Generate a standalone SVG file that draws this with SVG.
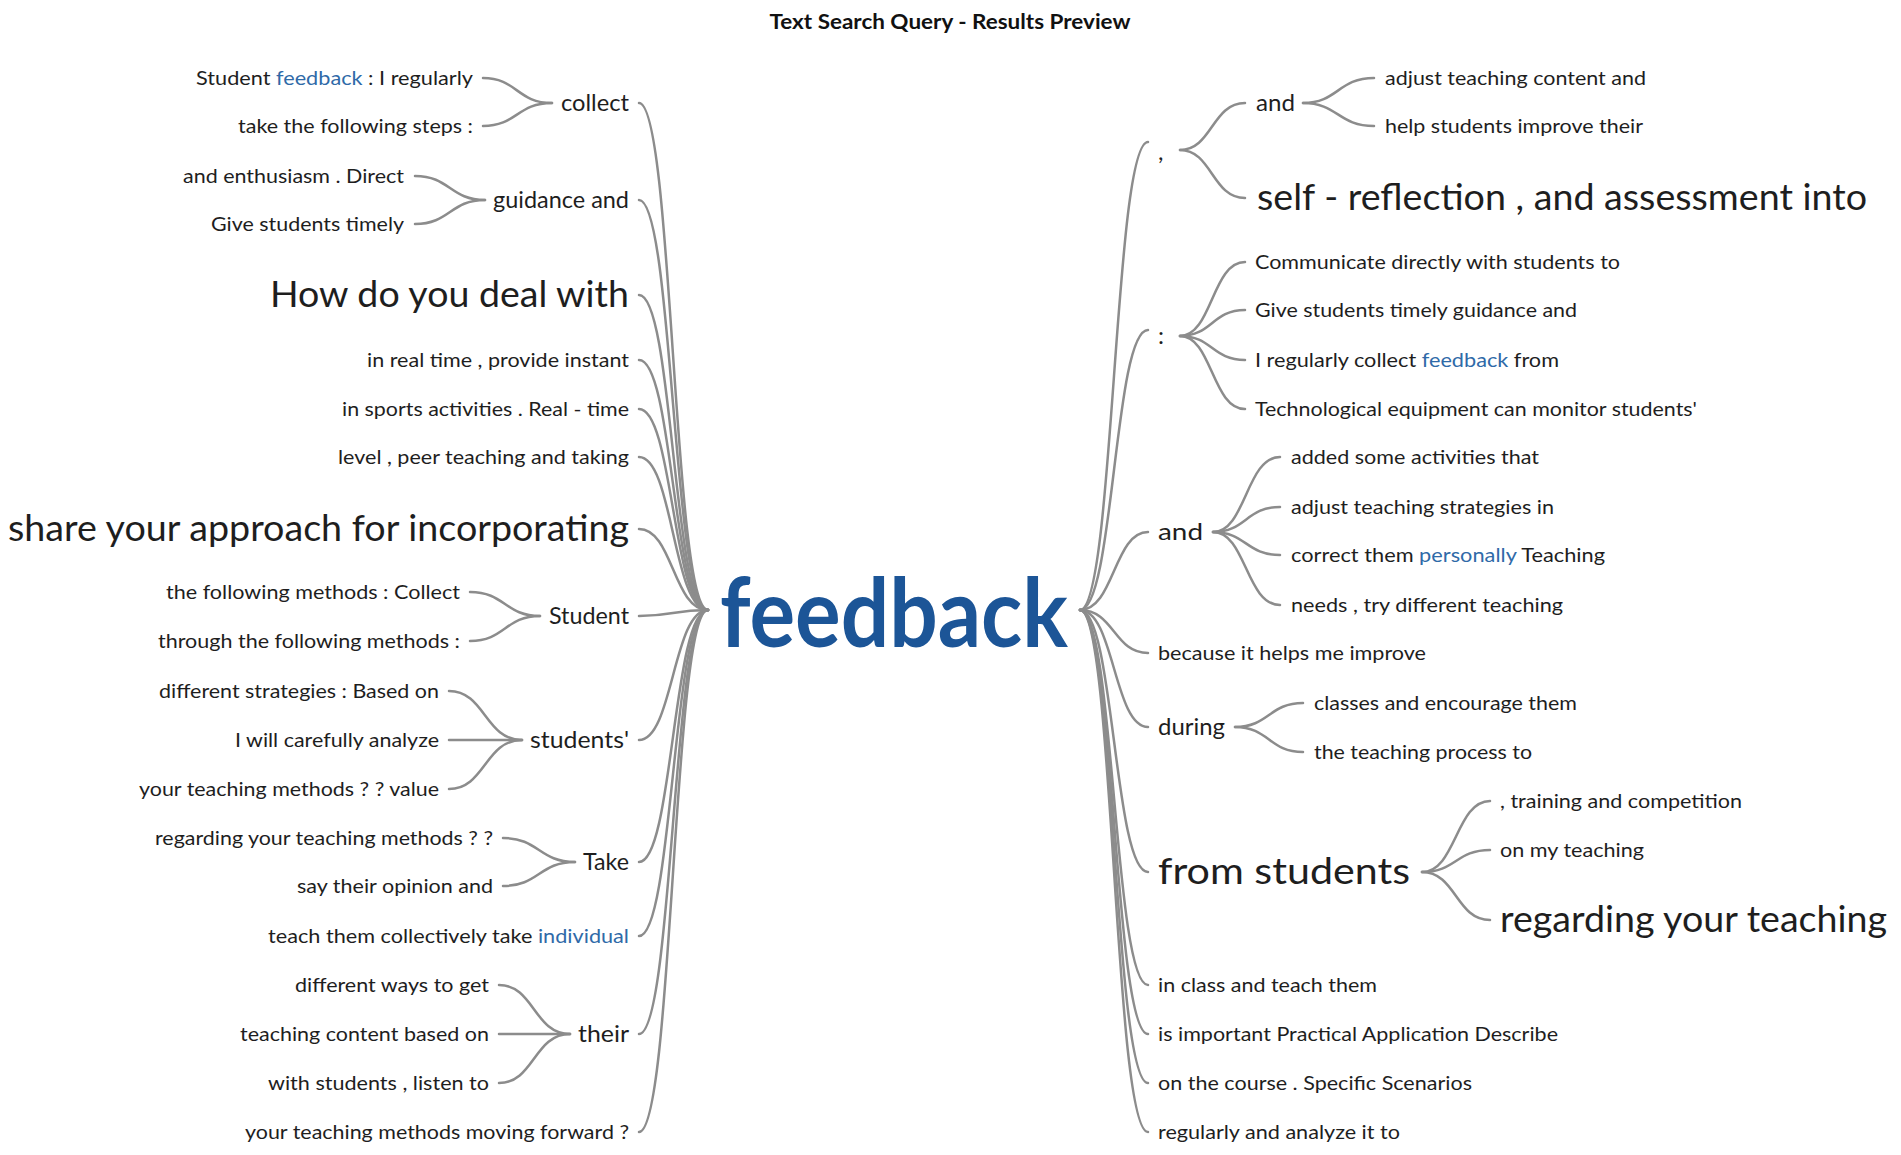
<svg xmlns="http://www.w3.org/2000/svg" width="1901" height="1155" viewBox="0 0 1901 1155">
<style>
text{font-family:Lato,"Open Sans","Liberation Sans",sans-serif;fill:#1e1e1e}
.s{font-size:20px}
.m{font-size:24px}
.b{font-size:36px}
.l{text-anchor:end}
.hl{fill:#2f6aa8}
.title{font-size:20px;font-weight:bold;text-anchor:middle;fill:#111}
.root{font-size:96px;font-weight:bold;fill:#1c5597}
.lk{fill:none;stroke:#8c8c8c;stroke-width:2.5;stroke-linecap:round}
</style>
<rect width="1901" height="1155" fill="#fff"/>
<text class="title" x="950" y="29" textLength="361" lengthAdjust="spacingAndGlyphs">Text Search Query - Results Preview</text>

<g id="connectors">
<!-- left level 1 -->
<path class="lk" d="M639,103 C673,103 673,610 708,610"/>
<path class="lk" d="M639,200 C673,200 673,610 708,610"/>
<path class="lk" d="M639,295 C673,295 673,610 708,610"/>
<path class="lk" d="M639,360 C673,360 673,610 708,610"/>
<path class="lk" d="M639,409 C673,409 673,610 708,610"/>
<path class="lk" d="M639,457 C673,457 673,610 708,610"/>
<path class="lk" d="M639,529 C673,529 673,610 708,610"/>
<path class="lk" d="M639,616 C673,616 673,610 708,610"/>
<path class="lk" d="M639,740 C673,740 673,610 708,610"/>
<path class="lk" d="M639,862 C673,862 673,610 708,610"/>
<path class="lk" d="M639,936 C673,936 673,610 708,610"/>
<path class="lk" d="M639,1034 C673,1034 673,610 708,610"/>
<path class="lk" d="M639,1132 C673,1132 673,610 708,610"/>
<!-- left level 2 -->
<path class="lk" d="M552,103 C517,103 517,78 483,78"/>
<path class="lk" d="M552,103 C517,103 517,126 483,126"/>
<path class="lk" d="M485,200 C450,200 450,176 415,176"/>
<path class="lk" d="M485,200 C450,200 450,224 415,224"/>
<path class="lk" d="M540,616 C505,616 505,592 470,592"/>
<path class="lk" d="M540,616 C505,616 505,641 470,641"/>
<path class="lk" d="M522,740 C485,740 485,691 449,691"/>
<path class="lk" d="M522,740 C485,740 485,740 449,740"/>
<path class="lk" d="M522,740 C485,740 485,789 449,789"/>
<path class="lk" d="M575,862 C539,862 539,838 503,838"/>
<path class="lk" d="M575,862 C539,862 539,886 503,886"/>
<path class="lk" d="M570,1034 C534,1034 534,985 499,985"/>
<path class="lk" d="M570,1034 C534,1034 534,1034 499,1034"/>
<path class="lk" d="M570,1034 C534,1034 534,1083 499,1083"/>
<!-- right level 1 -->
<path class="lk" d="M1080,610 C1114,610 1114,142 1148,142"/>
<path class="lk" d="M1080,610 C1114,610 1114,330 1148,330"/>
<path class="lk" d="M1080,610 C1114,610 1114,532 1148,532"/>
<path class="lk" d="M1080,610 C1114,610 1114,653 1148,653"/>
<path class="lk" d="M1080,610 C1114,610 1114,727 1148,727"/>
<path class="lk" d="M1080,610 C1114,610 1114,872 1148,872"/>
<path class="lk" d="M1080,610 C1114,610 1114,985 1148,985"/>
<path class="lk" d="M1080,610 C1114,610 1114,1034 1148,1034"/>
<path class="lk" d="M1080,610 C1114,610 1114,1083 1148,1083"/>
<path class="lk" d="M1080,610 C1114,610 1114,1132 1148,1132"/>
<!-- right level 2 -->
<path class="lk" d="M1180,150 C1212,150 1212,103 1245,103"/>
<path class="lk" d="M1180,150 C1212,150 1212,198 1245,198"/>
<path class="lk" d="M1303,103 C1338,103 1338,78 1374,78"/>
<path class="lk" d="M1303,103 C1338,103 1338,126 1374,126"/>
<path class="lk" d="M1180,336 C1212,336 1212,262 1245,262"/>
<path class="lk" d="M1180,336 C1212,336 1212,310 1245,310"/>
<path class="lk" d="M1180,336 C1212,336 1212,360 1245,360"/>
<path class="lk" d="M1180,336 C1212,336 1212,409 1245,409"/>
<path class="lk" d="M1213,532 C1246,532 1246,457 1280,457"/>
<path class="lk" d="M1213,532 C1246,532 1246,507 1280,507"/>
<path class="lk" d="M1213,532 C1246,532 1246,555 1280,555"/>
<path class="lk" d="M1213,532 C1246,532 1246,605 1280,605"/>
<path class="lk" d="M1235,727 C1269,727 1269,703 1303,703"/>
<path class="lk" d="M1235,727 C1269,727 1269,752 1303,752"/>
<path class="lk" d="M1422,872 C1456,872 1456,801 1490,801"/>
<path class="lk" d="M1422,872 C1456,872 1456,850 1490,850"/>
<path class="lk" d="M1422,872 C1456,872 1456,920 1490,920"/>
</g>

<g id="root"><text class="root" x="720" y="647" textLength="348" lengthAdjust="spacingAndGlyphs">feedback</text></g>

<!-- left nodes -->
<g id="n-collect"><text class="m l" x="629" y="111" textLength="68" lengthAdjust="spacingAndGlyphs">collect</text></g>
<g id="n-collect-1"><text class="s l" x="473" y="85" textLength="277" lengthAdjust="spacingAndGlyphs">Student <tspan class="hl">feedback</tspan> : I regularly</text></g>
<g id="n-collect-2"><text class="s l" x="473" y="133" textLength="235" lengthAdjust="spacingAndGlyphs">take the following steps :</text></g>
<g id="n-guidance"><text class="m l" x="629" y="208" textLength="136" lengthAdjust="spacingAndGlyphs">guidance and</text></g>
<g id="n-guidance-1"><text class="s l" x="404" y="183" textLength="221" lengthAdjust="spacingAndGlyphs">and enthusiasm . Direct</text></g>
<g id="n-guidance-2"><text class="s l" x="404" y="231" textLength="193" lengthAdjust="spacingAndGlyphs">Give students timely</text></g>
<g id="n-how"><text class="b l" x="629" y="307" textLength="359" lengthAdjust="spacingAndGlyphs">How do you deal with</text></g>
<g id="n-realtime"><text class="s l" x="629" y="367" textLength="262" lengthAdjust="spacingAndGlyphs">in real time , provide instant</text></g>
<g id="n-sports"><text class="s l" x="629" y="416" textLength="287" lengthAdjust="spacingAndGlyphs">in sports activities . Real - time</text></g>
<g id="n-level"><text class="s l" x="629" y="464" textLength="291" lengthAdjust="spacingAndGlyphs">level , peer teaching and taking</text></g>
<g id="n-share"><text class="b l" x="629" y="541" textLength="621" lengthAdjust="spacingAndGlyphs">share your approach for incorporating</text></g>
<g id="n-student"><text class="m l" x="629" y="624" textLength="80" lengthAdjust="spacingAndGlyphs">Student</text></g>
<g id="n-student-1"><text class="s l" x="460" y="599" textLength="294" lengthAdjust="spacingAndGlyphs">the following methods : Collect</text></g>
<g id="n-student-2"><text class="s l" x="460" y="648" textLength="302" lengthAdjust="spacingAndGlyphs">through the following methods :</text></g>
<g id="n-students"><text class="m l" x="629" y="748" textLength="99" lengthAdjust="spacingAndGlyphs">students'</text></g>
<g id="n-students-1"><text class="s l" x="439" y="698" textLength="280" lengthAdjust="spacingAndGlyphs">different strategies : Based on</text></g>
<g id="n-students-2"><text class="s l" x="439" y="747" textLength="204" lengthAdjust="spacingAndGlyphs">I will carefully analyze</text></g>
<g id="n-students-3"><text class="s l" x="439" y="796" textLength="300" lengthAdjust="spacingAndGlyphs">your teaching methods ? ? value</text></g>
<g id="n-take"><text class="m l" x="629" y="870" textLength="46" lengthAdjust="spacingAndGlyphs">Take</text></g>
<g id="n-take-1"><text class="s l" x="493" y="845" textLength="338" lengthAdjust="spacingAndGlyphs">regarding your teaching methods ? ?</text></g>
<g id="n-take-2"><text class="s l" x="493" y="893" textLength="196" lengthAdjust="spacingAndGlyphs">say their opinion and</text></g>
<g id="n-teach"><text class="s l" x="629" y="943" textLength="361" lengthAdjust="spacingAndGlyphs">teach them collectively take <tspan class="hl">individual</tspan></text></g>
<g id="n-their"><text class="m l" x="629" y="1042" textLength="51" lengthAdjust="spacingAndGlyphs">their</text></g>
<g id="n-their-1"><text class="s l" x="489" y="992" textLength="194" lengthAdjust="spacingAndGlyphs">different ways to get</text></g>
<g id="n-their-2"><text class="s l" x="489" y="1041" textLength="249" lengthAdjust="spacingAndGlyphs">teaching content based on</text></g>
<g id="n-their-3"><text class="s l" x="489" y="1090" textLength="221" lengthAdjust="spacingAndGlyphs">with students , listen to</text></g>
<g id="n-forward"><text class="s l" x="629" y="1139" textLength="384" lengthAdjust="spacingAndGlyphs">your teaching methods moving forward ?</text></g>

<!-- right nodes -->
<g id="n-comma"><text class="m" x="1158" y="160">,</text></g>
<g id="n-comma-and"><text class="m" x="1256" y="111" textLength="39" lengthAdjust="spacingAndGlyphs">and</text></g>
<g id="n-comma-and-1"><text class="s" x="1385" y="85" textLength="261" lengthAdjust="spacingAndGlyphs">adjust teaching content and</text></g>
<g id="n-comma-and-2"><text class="s" x="1385" y="133" textLength="258" lengthAdjust="spacingAndGlyphs">help students improve their</text></g>
<g id="n-comma-self"><text class="b" x="1257" y="210" textLength="610" lengthAdjust="spacingAndGlyphs">self - reflection , and assessment into</text></g>
<g id="n-colon"><text class="m" x="1158" y="344">:</text></g>
<g id="n-colon-1"><text class="s" x="1255" y="269" textLength="365" lengthAdjust="spacingAndGlyphs">Communicate directly with students to</text></g>
<g id="n-colon-2"><text class="s" x="1255" y="317" textLength="322" lengthAdjust="spacingAndGlyphs">Give students timely guidance and</text></g>
<g id="n-colon-3"><text class="s" x="1255" y="367" textLength="304" lengthAdjust="spacingAndGlyphs">I regularly collect <tspan class="hl">feedback</tspan> from</text></g>
<g id="n-colon-4"><text class="s" x="1255" y="416" textLength="442" lengthAdjust="spacingAndGlyphs">Technological equipment can monitor students'</text></g>
<g id="n-and"><text class="m" x="1158" y="540" textLength="45" lengthAdjust="spacingAndGlyphs">and</text></g>
<g id="n-and-1"><text class="s" x="1291" y="464" textLength="248" lengthAdjust="spacingAndGlyphs">added some activities that</text></g>
<g id="n-and-2"><text class="s" x="1291" y="514" textLength="263" lengthAdjust="spacingAndGlyphs">adjust teaching strategies in</text></g>
<g id="n-and-3"><text class="s" x="1291" y="562" textLength="314" lengthAdjust="spacingAndGlyphs">correct them <tspan class="hl">personally</tspan> Teaching</text></g>
<g id="n-and-4"><text class="s" x="1291" y="612" textLength="272" lengthAdjust="spacingAndGlyphs">needs , try different teaching</text></g>
<g id="n-because"><text class="s" x="1158" y="660" textLength="268" lengthAdjust="spacingAndGlyphs">because it helps me improve</text></g>
<g id="n-during"><text class="m" x="1158" y="735" textLength="67" lengthAdjust="spacingAndGlyphs">during</text></g>
<g id="n-during-1"><text class="s" x="1314" y="710" textLength="263" lengthAdjust="spacingAndGlyphs">classes and encourage them</text></g>
<g id="n-during-2"><text class="s" x="1314" y="759" textLength="218" lengthAdjust="spacingAndGlyphs">the teaching process to</text></g>
<g id="n-from"><text class="b" x="1158" y="884" textLength="252" lengthAdjust="spacingAndGlyphs">from students</text></g>
<g id="n-from-1"><text class="s" x="1500" y="808" textLength="242" lengthAdjust="spacingAndGlyphs">, training and competition</text></g>
<g id="n-from-2"><text class="s" x="1500" y="857" textLength="144" lengthAdjust="spacingAndGlyphs">on my teaching</text></g>
<g id="n-from-3"><text class="b" x="1500" y="932" textLength="387" lengthAdjust="spacingAndGlyphs">regarding your teaching</text></g>
<g id="n-class"><text class="s" x="1158" y="992" textLength="219" lengthAdjust="spacingAndGlyphs">in class and teach them</text></g>
<g id="n-important"><text class="s" x="1158" y="1041" textLength="400" lengthAdjust="spacingAndGlyphs">is important Practical Application Describe</text></g>
<g id="n-course"><text class="s" x="1158" y="1090" textLength="314" lengthAdjust="spacingAndGlyphs">on the course . Specific Scenarios</text></g>
<g id="n-regularly"><text class="s" x="1158" y="1139" textLength="242" lengthAdjust="spacingAndGlyphs">regularly and analyze it to</text></g>
</svg>
